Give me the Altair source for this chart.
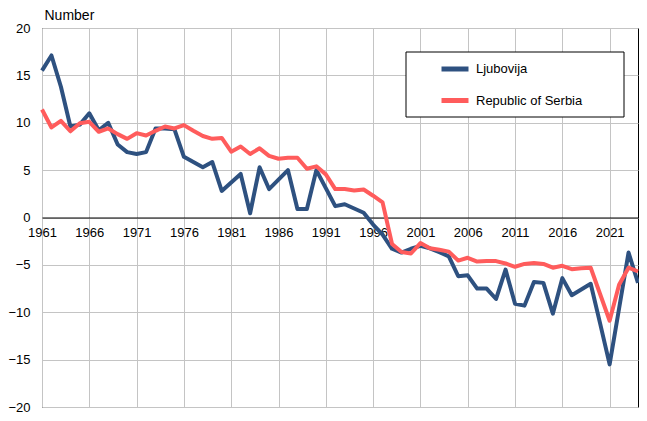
import altair as alt
import pandas as pd

years = list(range(1961, 2025))

ljubovija = [
    15.5, 17.1, 13.8, 9.6, 9.8, 11.0, 9.2, 10.0, 7.7, 6.9,
    6.7, 6.9, 9.4, 9.4, 9.3, 6.4, 5.85, 5.3, 5.85, 2.8,
    3.7, 4.6, 0.45, 5.3, 3.0, 4.0, 5.0, 0.9, 0.9, 5.0,
    3.1, 1.2, 1.4, 0.95, 0.5, -0.75, -1.8, -3.3, -3.7, -3.3,
    -3.0, -3.25, -3.65, -4.1, -6.2, -6.1, -7.5, -7.5, -8.6, -5.5,
    -9.1, -9.3, -6.8, -6.9, -10.15, -6.4, -8.2, -7.6, -7.0, -11.2,
    -15.5, -9.6, -3.7, -6.9,
]

serbia = [
    11.4, 9.5, 10.2, 9.1, 9.95, 10.1, 9.05, 9.4, 8.8, 8.3,
    8.9, 8.65, 9.15, 9.6, 9.4, 9.75, 9.15, 8.6, 8.3, 8.4,
    6.95, 7.5, 6.7, 7.3, 6.5, 6.2, 6.3, 6.3, 5.15, 5.4,
    4.55, 3.0, 3.0, 2.85, 2.95, 2.3, 1.6, -2.8, -3.65, -3.8,
    -2.7, -3.25, -3.4, -3.6, -4.55, -4.25, -4.65, -4.6, -4.6, -4.85,
    -5.2, -4.9, -4.8, -4.9, -5.3, -5.1, -5.45, -5.35, -5.3, -8.1,
    -10.9, -7.1, -5.3, -5.7,
]

series_names = ["Ljubovija", "Republic of Serbia"]
series_colors = ["#2E5180", "#FF5C5C"]
x_ticks = list(range(1961, 2022, 5))
y_ticks = list(range(-20, 21, 5))

df = pd.DataFrame({
    "year": years * 2,
    "value": ljubovija + serbia,
    "series": [series_names[0]] * len(years) + [series_names[1]] * len(years),
})

FONT = "Liberation Sans"
W, H = 596, 379

lines = alt.Chart(df).mark_line(strokeWidth=4, strokeJoin="round").encode(
    x=alt.X("year:Q",
            scale=alt.Scale(domain=[1961, 2024], nice=False, zero=False),
            axis=alt.Axis(values=x_ticks, format="d", offset=-H / 2, labelPadding=9,
                          title=None, labelFlush=False, labelOverlap=False,
                          domainColor="black", domainWidth=1)),
    y=alt.Y("value:Q",
            scale=alt.Scale(domain=[-20, 20], nice=False),
            axis=alt.Axis(values=y_ticks, title="Number", titleAngle=0,
                          titleAlign="left", titleBaseline="alphabetic",
                          titleX=2, titleY=-8.5, titleFontWeight="normal",
                          titleFontSize=14, titleFont=FONT, titleColor="black",
                          labelPadding=12, domain=False)),
    color=alt.Color("series:N",
                    scale=alt.Scale(domain=series_names, range=series_colors),
                    legend=alt.Legend(orient="none", legendX=397, legendY=25,
                                      title=None, symbolType="stroke",
                                      symbolSize=729, symbolStrokeWidth=5,
                                      labelFontSize=13, labelFont=FONT,
                                      labelColor="black", labelOffset=5,
                                      rowPadding=5.5, padding=0)),
)

box = alt.Chart(pd.DataFrame({"a": [0]})).mark_rect(
    fill="white", stroke="black", strokeWidth=1
).encode(
    x=alt.value(364), x2=alt.value(582), y=alt.value(24), y2=alt.value(89)
)

chart = alt.layer(lines, box).properties(
    width=W, height=H,
    autosize="none",
    padding={"left": 34, "top": 20, "right": 1, "bottom": 6},
).configure_axis(
    gridColor="#c4c4c4", gridWidth=1, labelFont=FONT, labelFontSize=13,
    labelColor="black", ticks=False,
).configure_view(stroke="black", strokeWidth=1)

chart.save("out.html", embed_options={"renderer": "svg", "actions": False})
